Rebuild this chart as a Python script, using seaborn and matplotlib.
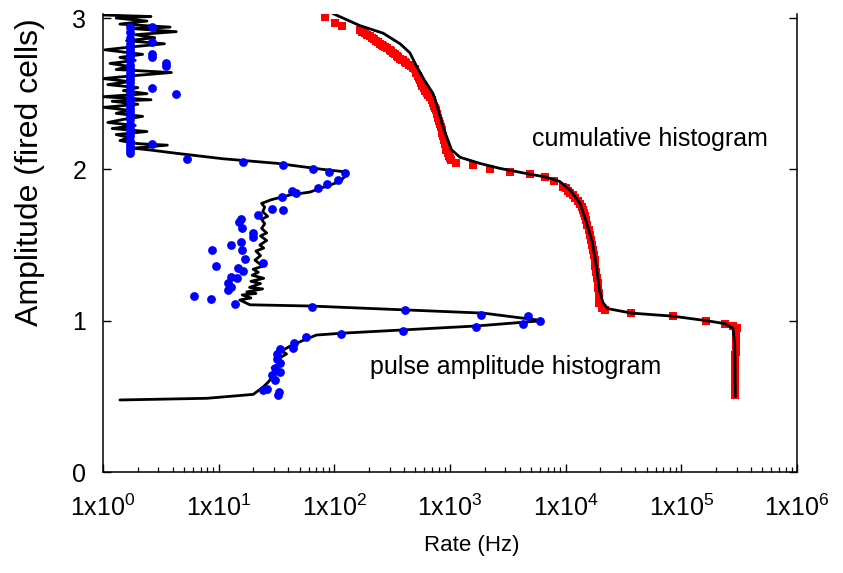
import numpy as np
import pandas as pd
import matplotlib
matplotlib.use("Agg")
import matplotlib.pyplot as plt
import seaborn as sns

# ---- pulse amplitude histogram: measured curve (rate in Hz, amplitude in fired cells)
pulse_line_rate = [1.40, 7.9, 19.9, 24.1, 26.5, 28.7, 31.7, 29.0, 36.0, 33.0, 38.6, 35.0,
                   41.0, 53.8, 70.0, 115.0, 1690.0, 6330.0, 1940.0, 61.6,
                   18.6, 15.2, 19.0, 16.0, 21.0, 17.5, 24.0, 18.5, 23.0, 19.0, 24.5, 19.5,
                   22.0, 19.9, 24.0, 20.6, 23.0, 21.0, 24.5, 22.7, 26.0, 23.0, 26.0, 23.5,
                   25.0, 23.5, 26.5, 24.0, 25.0, 23.5, 28.7, 41.0, 61.6, 112.0, 128.0, 120.0,
                   79.0, 31.7, 10.9, 4.33, 2.55, 1.81,
                   3.6, 2.0, 1.4, 1.7, 1.3, 2.4, 1.2, 1.9, 1.1, 1.5, 2.2, 1.3, 1.7, 1.02,
                   2.0, 1.2, 2.6, 1.0, 2.4, 1.5, 2.0, 1.1, 1.7, 1.0, 1.9, 3.9, 1.3, 1.7,
                   1.15, 1.9, 1.4, 2.2, 1.04, 1.8, 3.4, 1.6, 2.8, 1.9, 4.3, 1.8, 3.8, 1.4,
                   2.4, 1.3, 2.6, 1.0]
pulse_line_amp = [0.476, 0.487, 0.513, 0.56, 0.59, 0.62, 0.66, 0.69, 0.72, 0.75, 0.78, 0.80,
                  0.83, 0.87, 0.905, 0.917, 0.965, 1.0, 1.05, 1.097,
                  1.105, 1.137, 1.15, 1.17, 1.18, 1.19, 1.21, 1.22, 1.245, 1.26, 1.28, 1.30,
                  1.32, 1.34, 1.36, 1.40, 1.43, 1.46, 1.48, 1.50, 1.53, 1.56, 1.58, 1.61,
                  1.64, 1.67, 1.69, 1.72, 1.75, 1.775, 1.80, 1.83, 1.85, 1.92, 1.965, 1.985,
                  2.0, 2.04, 2.07, 2.106, 2.128, 2.14,
                  2.16, 2.17, 2.19, 2.21, 2.23, 2.25, 2.27, 2.29, 2.31, 2.33, 2.35, 2.37, 2.39, 2.41,
                  2.43, 2.45, 2.46, 2.48, 2.50, 2.52, 2.54, 2.56, 2.58, 2.60, 2.62, 2.64, 2.66, 2.68,
                  2.70, 2.72, 2.74, 2.76, 2.79, 2.81, 2.83, 2.85, 2.87, 2.89, 2.91, 2.93, 2.94, 2.96,
                  2.98, 3.0, 3.01, 3.02]

# ---- pulse amplitude histogram: data points
pulse_pts_rate = [1.71] * 34 + [2.65, 2.65, 2.65, 2.65, 2.65, 2.65, 3.5, 3.5, 4.3,
                  5.3, 16.2, 36.0, 65.0, 90.0, 123.0, 107.0, 86.0, 72.0, 47.0, 43.0, 35.0,
                  29.0, 36.0, 21.8, 15.0, 15.5, 16.0, 19.8, 19.8, 15.5, 12.9, 8.7, 15.8,
                  16.9, 24.0, 9.5, 14.8, 16.2, 12.9, 14.3, 12.1, 12.9, 12.1, 6.1, 8.6, 13.8,
                  63.6, 405.0, 1870.0, 4750.0, 5960.0, 4250.0, 1690.0, 394.0, 115.0, 57.0,
                  45.0, 43.6, 34.0, 32.0, 31.7, 33.9, 30.6, 33.9, 28.7, 30.6, 24.2, 26.0,
                  33.3, 32.7]
pulse_pts_amp = [2.11, 2.13, 2.15, 2.17, 2.19, 2.22, 2.24, 2.26, 2.28, 2.30, 2.33, 2.35,
                 2.38, 2.40, 2.42, 2.45, 2.47, 2.51, 2.55, 2.58, 2.60, 2.62, 2.64, 2.67,
                 2.69, 2.72, 2.74, 2.77, 2.79, 2.81, 2.83, 2.87, 2.91, 2.94,
                 2.94, 2.84, 2.76, 2.74, 2.54, 2.17, 2.70, 2.68, 2.50,
                 2.07, 2.05, 2.03, 2.0, 1.985, 1.975, 1.93, 1.90, 1.875, 1.845, 1.86, 1.82,
                 1.74, 1.73, 1.70, 1.65, 1.67, 1.61, 1.58, 1.55, 1.52, 1.50, 1.47, 1.47,
                 1.41, 1.38, 1.36, 1.35, 1.33, 1.29, 1.28, 1.25, 1.22, 1.20, 1.16, 1.14, 1.11,
                 1.09, 1.07, 1.04, 1.03, 1.00, 0.98, 0.96, 0.93, 0.91, 0.89,
                 0.855, 0.82, 0.81, 0.78, 0.745, 0.72, 0.685, 0.66, 0.64, 0.61, 0.54, 0.55,
                 0.53, 0.51]

# ---- cumulative histogram: fitted curve
cum_line_rate = [97, 166, 264, 370, 450, 515, 600, 715, 800, 870, 1030, 1220, 1800, 2680,
                 4400, 6600, 8900, 11000, 13200, 15000, 17000, 18500, 19600, 21000, 23000,
                 37000, 84000, 165000, 240000, 280000, 290000, 293000]
cum_line_amp = [3.03, 2.95, 2.90, 2.83, 2.77, 2.68, 2.59, 2.50, 2.38, 2.28, 2.13, 2.08, 2.04,
                2.007, 1.975, 1.95, 1.92, 1.86, 1.78, 1.66, 1.52, 1.35, 1.20, 1.12, 1.08,
                1.05, 1.03, 1.0, 0.98, 0.95, 0.83, 0.50]

# ---- cumulative histogram: data points
cum_pts_rate = [83, 101, 116, 166, 175, 185, 193, 202, 211, 220, 229, 238, 247, 256, 265,
                274, 287, 300, 312, 324, 335, 347, 358, 370, 382, 395, 407, 420, 440, 460,
                480, 500, 512, 525, 538, 550, 564, 578, 591, 605, 627, 650, 672, 695, 712,
                730, 745, 760, 775, 790, 803, 815, 830, 845, 858, 870, 885, 900, 915, 930,
                955, 980, 1005, 1030, 1130, 1580, 2230, 3300, 4900, 6600, 8000, 9500, 10000,
                10500, 11000, 11600, 12100, 12700, 13200, 13800, 14100, 14400, 14700,
                15000, 15400, 15900, 16300, 16700, 17000, 17300, 17500, 17800, 18100,
                18400, 18700, 19000, 19100, 19300, 19450, 19600, 20500, 22000, 37000,
                84000, 165000, 240000, 280000,
                300000, 299000, 298000, 297000, 296000, 295000, 295000, 294000, 294000,
                293000, 293000, 293000, 292000, 292000, 292000, 292000, 292000, 292000,
                292000, 292000, 292000, 292000, 292000]
cum_pts_amp = [3.01, 2.97, 2.95, 2.92, 2.91, 2.90, 2.89, 2.88, 2.87, 2.86, 2.85, 2.84,
               2.83, 2.82, 2.815, 2.81, 2.80, 2.79, 2.78, 2.77, 2.76, 2.75, 2.74, 2.73,
               2.725, 2.72, 2.71, 2.70, 2.69, 2.68, 2.67, 2.66, 2.64, 2.62, 2.605, 2.59,
               2.57, 2.55, 2.535, 2.52, 2.505, 2.49, 2.475, 2.46, 2.44, 2.42, 2.405, 2.39,
               2.365, 2.34, 2.32, 2.30, 2.28, 2.26, 2.24, 2.22, 2.195, 2.17, 2.15, 2.13,
               2.11, 2.09, 2.075, 2.06, 2.04, 2.03, 2.0, 1.985, 1.97, 1.95, 1.92, 1.885,
               1.875, 1.86, 1.845, 1.83, 1.81, 1.79, 1.77, 1.75, 1.73, 1.71, 1.69, 1.665,
               1.635, 1.60, 1.565, 1.53, 1.50, 1.47, 1.435, 1.40, 1.36, 1.32, 1.285, 1.25,
               1.215, 1.18, 1.15, 1.115, 1.085, 1.07, 1.05, 1.03, 1.0, 0.98, 0.965,
               0.95, 0.93, 0.91, 0.89, 0.87, 0.85, 0.83, 0.81, 0.79, 0.77, 0.75, 0.73,
               0.71, 0.69, 0.67, 0.65, 0.63, 0.61, 0.59, 0.57, 0.55, 0.53, 0.51]

xtick_values = [1e0, 1e1, 1e2, 1e3, 1e4, 1e5, 1e6]
xtick_labels = [r"1x10$^{%d}$" % k for k in range(7)]
ytick_values = [0, 1, 2, 3]

pulse_line = pd.DataFrame({"rate": pulse_line_rate, "amp": pulse_line_amp})
pulse_pts = pd.DataFrame({"rate": pulse_pts_rate, "amp": pulse_pts_amp})
cum_line = pd.DataFrame({"rate": cum_line_rate, "amp": cum_line_amp})
cum_pts = pd.DataFrame({"rate": cum_pts_rate, "amp": cum_pts_amp})

sns.set_style("ticks")
plt.rcParams["font.family"] = ["Liberation Sans", "DejaVu Sans"]
plt.rcParams["mathtext.fontset"] = "custom"
plt.rcParams["mathtext.rm"] = "Liberation Sans"
plt.rcParams["mathtext.it"] = "Liberation Sans"
plt.rcParams["text.color"] = "black"
plt.rcParams["axes.labelcolor"] = "black"
plt.rcParams["xtick.color"] = "black"
plt.rcParams["ytick.color"] = "black"

fig = plt.figure(figsize=(8.43, 5.73), dpi=100)
ax = fig.add_axes([103 / 843, 1 - 472 / 573, 694 / 843, 458.5 / 573])

sns.scatterplot(data=cum_pts, x="rate", y="amp", ax=ax, color="#ff0000", marker="s",
                s=38, linewidth=0, zorder=2)
sns.lineplot(data=cum_line, x="rate", y="amp", ax=ax, sort=False, estimator=None,
             color="black", linewidth=2.0, zorder=3)
sns.lineplot(data=pulse_line, x="rate", y="amp", ax=ax, sort=False, estimator=None,
             color="black", linewidth=2.0, zorder=3)
sns.scatterplot(data=pulse_pts, x="rate", y="amp", ax=ax, color="#0000ff", marker="o",
                s=40, linewidth=0, zorder=4)

ax.set_xscale("log")
ax.set_xlim(1, 1e6)
ax.set_ylim(0, 3.03)
ax.set_xticks(xtick_values)
ax.set_xticklabels(xtick_labels, fontsize=18)
ax.set_yticks(ytick_values)
ax.set_yticklabels([str(v) for v in ytick_values], fontsize=18)
ax.xaxis.set_minor_locator(matplotlib.ticker.LogLocator(base=10, subs=np.arange(2, 10)))
ax.xaxis.set_minor_formatter(matplotlib.ticker.NullFormatter())
ax.yaxis.set_minor_locator(matplotlib.ticker.NullLocator())

ax.tick_params(axis="both", which="major", direction="in", length=6, width=1.0, color="black")
ax.tick_params(axis="x", which="major", pad=16)
ax.tick_params(axis="y", which="major", pad=12, right=True, left=True)
ax.tick_params(axis="x", which="minor", direction="in", length=3.5, width=0.9, top=False)

for side in ["left", "right", "bottom"]:
    ax.spines[side].set_linewidth(1.1)
    ax.spines[side].set_color("black")
ax.spines["top"].set_visible(False)

ax.set_xlabel("Rate (Hz)", fontsize=16)
ax.set_ylabel("Amplitude (fired cells)", fontsize=23)
ax.xaxis.set_label_coords(0.532, -0.138)
ax.yaxis.set_label_coords(-0.083, 0.655)

ax.text(5100, 2.20, "cumulative histogram", fontsize=18, va="center", ha="left")
ax.text(203, 0.694, "pulse amplitude histogram", fontsize=18, va="center", ha="left")

fig.savefig("out.png", dpi=100)
